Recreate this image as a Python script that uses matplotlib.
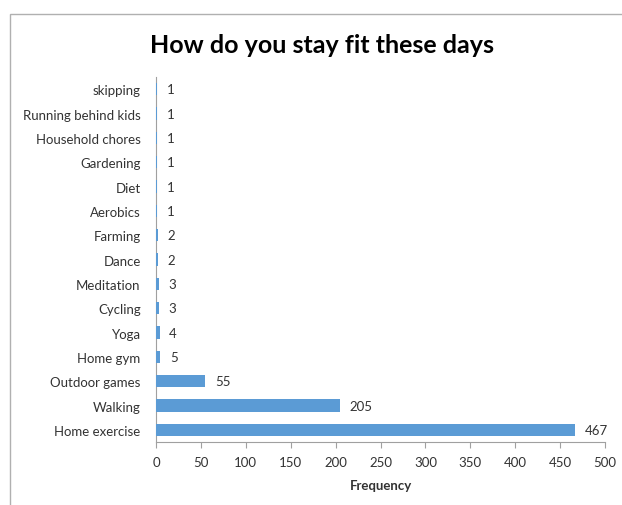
import matplotlib.pyplot as plt
from matplotlib.patches import Rectangle

# categories listed bottom to top
activities = ["Home exercise", "Walking", "Outdoor games", "Home gym", "Yoga",
              "Cycling", "Meditation", "Dance", "Farming", "Aerobics", "Diet",
              "Gardening", "Household chores", "Running behind kids", "skipping"]
counts = [467, 205, 55, 5, 4, 3, 3, 2, 2, 1, 1, 1, 1, 1, 1]
x_ticks = [0, 50, 100, 150, 200, 250, 300, 350, 400, 450, 500]

plt.rcParams["font.family"] = ["Lato", "DejaVu Sans"]
text_color = "#333333"
bar_color = "#5B9BD5"

fig = plt.figure(figsize=(6.22, 5.06), dpi=100)
ax = fig.add_axes([0.2508, 0.1245, 0.7219, 0.7213])

ypos = range(len(activities))
ax.barh(ypos, counts, height=0.5, color=bar_color, zorder=3)
for y, v in zip(ypos, counts):
    ax.annotate(str(v), (v, y), xytext=(7, 0), textcoords="offset points",
                va="center", ha="left", fontsize=9.5, color=text_color)

ax.set_xlim(0, 500)
ax.set_ylim(-0.5, len(activities) - 0.5)
ax.set_yticks(list(ypos))
ax.set_yticklabels(activities, fontsize=9.5, color=text_color)
ax.set_xticks(x_ticks)
ax.set_xticklabels([str(t) for t in x_ticks], fontsize=9.5, color=text_color)
ax.tick_params(axis="y", length=0, pad=11)
ax.tick_params(axis="x", direction="out", length=4, color="#a0a0a0", pad=6)
for s in ["top", "right"]:
    ax.spines[s].set_visible(False)
ax.spines["left"].set_color("#a0a0a0")
ax.spines["bottom"].set_color("#a0a0a0")
ax.set_xlabel("Frequency", fontsize=9.5, fontweight="bold", color=text_color, labelpad=8)

fig.text(322 / 622, 0.91, "How do you stay fit these days", ha="center", va="center",
         fontsize=18, fontweight="bold", color="black")

# chart-area border (extends past the image edge)
fig.patches.append(Rectangle((10 / 622, -0.1), 1.2, 1.1 - 15 / 506, transform=fig.transFigure,
                             fill=False, edgecolor="#b0b0b0", linewidth=1))

fig.savefig("out.png", dpi=100)
